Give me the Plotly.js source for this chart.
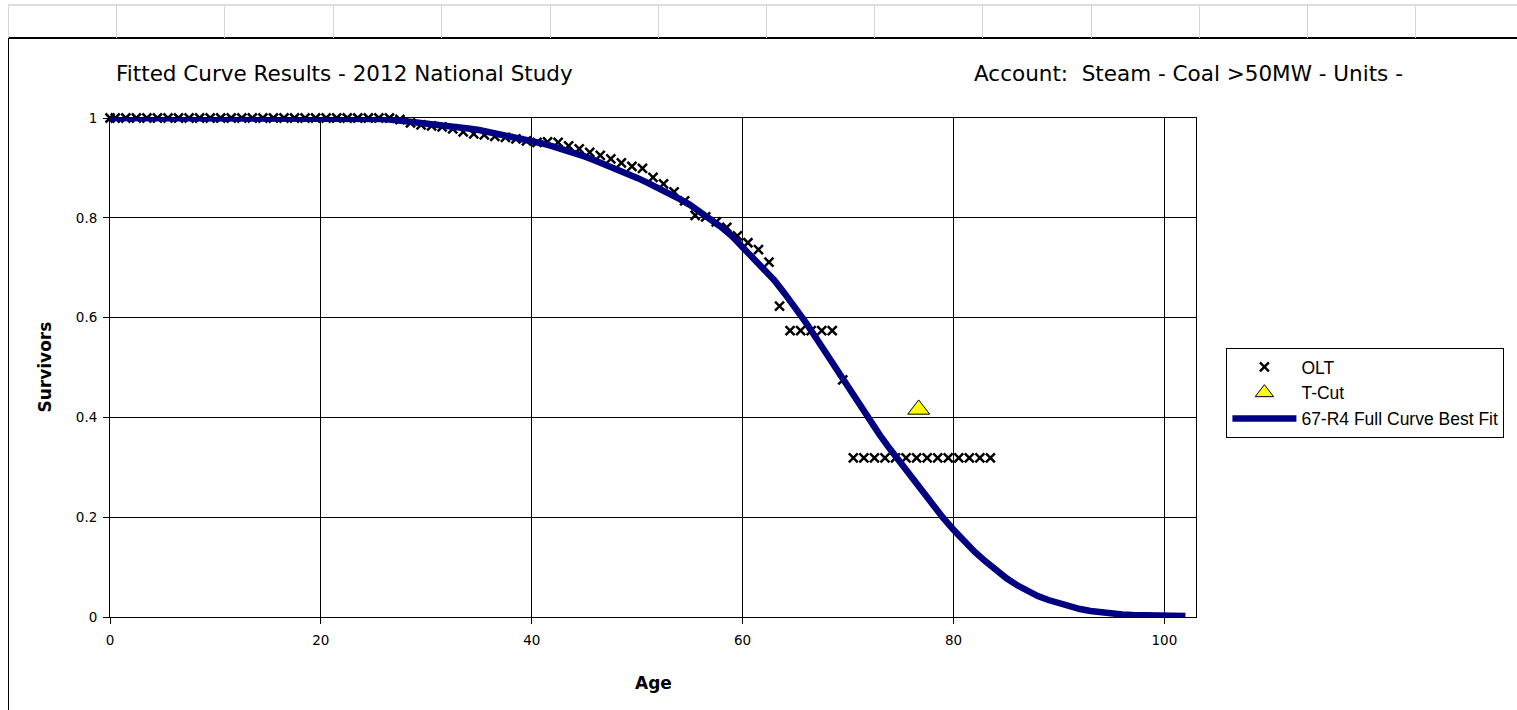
<!DOCTYPE html>
<html>
<head>
<meta charset="utf-8">
<script src="https://cdn.plot.ly/plotly-3.0.1.min.js"></script>
<style>
  html, body { margin:0; padding:0; background:#ffffff; width:1517px; height:710px; overflow:hidden; }
  #sheet { position:absolute; left:0; top:0; width:1517px; height:710px; }
  .gv { position:absolute; top:5px; height:33px; width:1px; background:#d6d6d6; }
  #gtop { position:absolute; left:8px; top:4px; width:1509px; height:2px; background:#dcdcdc; }
  #btop { position:absolute; left:8px; top:37px; width:1509px; height:2px; background:#000; }
  #bleft { position:absolute; left:8px; top:37px; width:1px; height:673px; background:#000; }
  #chart { position:absolute; left:0; top:0; width:1517px; height:710px; }
</style>
</head>
<body>
<div id="sheet"><div id="gtop"></div><div id="btop"></div><div id="bleft"></div></div>
<div id="chart"></div>
<script>
// ---- data ----
const oltAges = [0, 0.5, 1.5, 2.5, 3.5, 4.5, 5.5, 6.5, 7.5, 8.5, 9.5, 10.5, 11.5, 12.5, 13.5, 14.5,
  15.5, 16.5, 17.5, 18.5, 19.5, 20.5, 21.5, 22.5, 23.5, 24.5, 25.5, 26.5, 27.5, 28.5, 29.5,
  30.5, 31.5, 32.5, 33.5, 34.5, 35.5, 36.5, 37.5, 38.5, 39.5, 40.5, 41.5, 42.5, 43.5, 44.5,
  45.5, 46.5, 47.5, 48.5, 49.5, 50.5, 51.5, 52.5, 53.5, 54.5, 55.5, 56.5, 57.5, 58.5, 59.5,
  60.5, 61.5, 62.5, 63.5, 64.5, 65.5, 66.5, 67.5, 68.5, 69.5, 70.5, 71.5, 72.5, 73.5, 74.5,
  75.5, 76.5, 77.5, 78.5, 79.5, 80.5, 81.5, 82.5, 83.5];
const oltSurvivors = [1, 1, 1, 1, 1, 1, 1, 1, 1, 1, 1, 1, 1, 1, 1, 1,
  1, 1, 1, 1, 1, 1, 1, 1, 1, 1, 1, 1, 0.997, 0.99, 0.986,
  0.984, 0.982, 0.978, 0.972, 0.968, 0.966, 0.963, 0.961, 0.958, 0.954, 0.951, 0.952, 0.951, 0.944, 0.938,
  0.931, 0.925, 0.918, 0.91, 0.903, 0.899, 0.881, 0.868, 0.852, 0.834, 0.805, 0.802, 0.792, 0.781, 0.764,
  0.75, 0.736, 0.711, 0.623, 0.574, 0.574, 0.574, 0.574, 0.574, 0.475, 0.319, 0.319, 0.319, 0.319, 0.319,
  0.319, 0.319, 0.319, 0.319, 0.319, 0.319, 0.319, 0.319, 0.319];

const tcutAge = [76.7];
const tcutSurvivors = [0.416];

const fitAges = [0, 1, 2, 3, 4, 5, 6, 7, 8, 9, 10, 11, 12, 13, 14, 15, 16, 17, 18, 19, 20,
  21, 22, 23, 24, 25, 26, 27, 28, 29, 30, 31, 32, 33, 34, 35, 36, 37, 38, 39, 40,
  41, 42, 43, 44, 45, 46, 47, 48, 49, 50, 51, 52, 53, 54, 55, 56, 57, 58, 59, 60,
  61, 62, 63, 64, 65, 66, 67, 68, 69, 70, 71, 72, 73, 74, 75, 76, 77, 78, 79, 80,
  81, 82, 83, 84, 85, 86, 87, 88, 89, 90, 91, 92, 93, 94, 95, 96, 97, 98, 99, 100, 101, 102];
const fitSurvivors = [1, 1, 1, 1, 1, 1, 1, 1, 1, 1, 1, 1, 1, 1, 1, 1, 1, 1, 1, 1, 1,
  1, 1, 1, 1, 0.999, 0.998, 0.996, 0.994, 0.992, 0.99, 0.988, 0.985, 0.982, 0.979, 0.976, 0.972, 0.968, 0.964, 0.96, 0.955,
  0.949, 0.943, 0.937, 0.93, 0.923, 0.915, 0.907, 0.899, 0.89, 0.88, 0.87, 0.86, 0.849, 0.838, 0.826, 0.812, 0.797, 0.781, 0.763, 0.742,
  0.721, 0.699, 0.675, 0.648, 0.62, 0.59, 0.558, 0.525, 0.492, 0.459, 0.426, 0.395, 0.365, 0.336, 0.308, 0.28, 0.252, 0.225, 0.199, 0.175,
  0.152, 0.131, 0.112, 0.094, 0.078, 0.064, 0.052, 0.042, 0.034, 0.027, 0.021, 0.016, 0.012, 0.009, 0.007, 0.005, 0.004, 0.003, 0.003, 0.002, 0.002, 0.002];

const xTicks = [0, 20, 40, 60, 80, 100];
const yTicks = [0, 0.2, 0.4, 0.6, 0.8, 1];
const yTickText = ['0', '0.2', '0.4', '0.6', '0.8', '1'];

// spreadsheet column lines
const sheet = document.getElementById('sheet');
[8, 116, 224, 333, 441, 550, 658, 766, 874, 982, 1091, 1199, 1307, 1415].forEach(x => {
  const d = document.createElement('div'); d.className = 'gv'; d.style.left = x + 'px'; sheet.appendChild(d);
});

const titleFont = {family: 'DejaVu Sans, sans-serif', size: 21.5, color: '#000'};
const tickFont = {family: 'DejaVu Sans, sans-serif', size: 13.5, color: '#000'};
const axTitleFont = {family: 'DejaVu Sans, sans-serif', size: 17, color: '#000'};

const traces = [
  {
    x: oltAges, y: oltSurvivors, name: 'OLT', type: 'scatter', mode: 'markers', cliponaxis: false,
    marker: {symbol: 'x-thin', size: 9, color: '#000', line: {width: 2.5, color: '#000'}}
  },
  {
    x: tcutAge, y: tcutSurvivors, name: 'T-Cut', type: 'scatter', mode: 'markers', cliponaxis: false,
    marker: {symbol: 'triangle-up', size: 19, color: '#ffff00', line: {width: 1, color: '#000'}}
  },
  {
    x: fitAges, y: fitSurvivors, name: '67-R4 Full Curve Best Fit', type: 'scatter', mode: 'lines', cliponaxis: false,
    line: {color: '#000080', width: 6.5}
  }
];

const layout = {
  width: 1517, height: 710,
  margin: {l: 110, r: 320.5, t: 118, b: 93, pad: 0},
  paper_bgcolor: 'rgba(0,0,0,0)', plot_bgcolor: '#ffffff',
  showlegend: true,
  legend: {
    x: 1.028, y: 0.539, xanchor: 'left', yanchor: 'top',
    bgcolor: '#ffffff', bordercolor: '#000', borderwidth: 1,
    font: {family: 'Liberation Sans, Arial, sans-serif', size: 17.5, color: '#000'},
    itemwidth: 64, tracegroupgap: 0
  },
  xaxis: {
    range: [0, 103], tickvals: xTicks, ticktext: xTicks.map(String),
    showgrid: true, gridcolor: '#000', gridwidth: 1,
    showline: true, mirror: true, linecolor: '#000', linewidth: 1,
    ticks: 'outside', ticklen: 6, tickcolor: '#000', tickfont: tickFont, ticklabelstandoff: 5,
    zeroline: false, fixedrange: true
  },
  yaxis: {
    range: [0, 1], tickvals: yTicks, ticktext: yTickText,
    showgrid: true, gridcolor: '#000', gridwidth: 1,
    showline: true, mirror: true, linecolor: '#000', linewidth: 1,
    ticks: 'outside', ticklen: 6, tickcolor: '#000', tickfont: tickFont, ticklabelstandoff: 3,
    zeroline: false, fixedrange: true
  },
  annotations: [
    {text: 'Fitted Curve Results - 2012 National Study', xref: 'paper', yref: 'paper', x: 0.0037, y: 1.09,
     xanchor: 'left', yanchor: 'middle', showarrow: false, font: titleFont},
    {text: 'Account:  Steam - Coal >50MW - Units -', xref: 'paper', yref: 'paper', x: 0.7934, y: 1.09,
     xanchor: 'left', yanchor: 'middle', showarrow: false, font: titleFont},
    {text: '<b>Age</b>', xref: 'paper', yref: 'paper', x: 0.5, y: -0.132,
     xanchor: 'center', yanchor: 'middle', showarrow: false, font: axTitleFont},
    {text: '<b>Survivors</b>', xref: 'paper', yref: 'paper', x: -0.0607, y: 0.5, textangle: -90,
     xanchor: 'center', yanchor: 'middle', showarrow: false, font: axTitleFont}
  ]
};

Plotly.newPlot('chart', traces, layout, {displayModeBar: false, staticPlot: true});
</script>
</body>
</html>
